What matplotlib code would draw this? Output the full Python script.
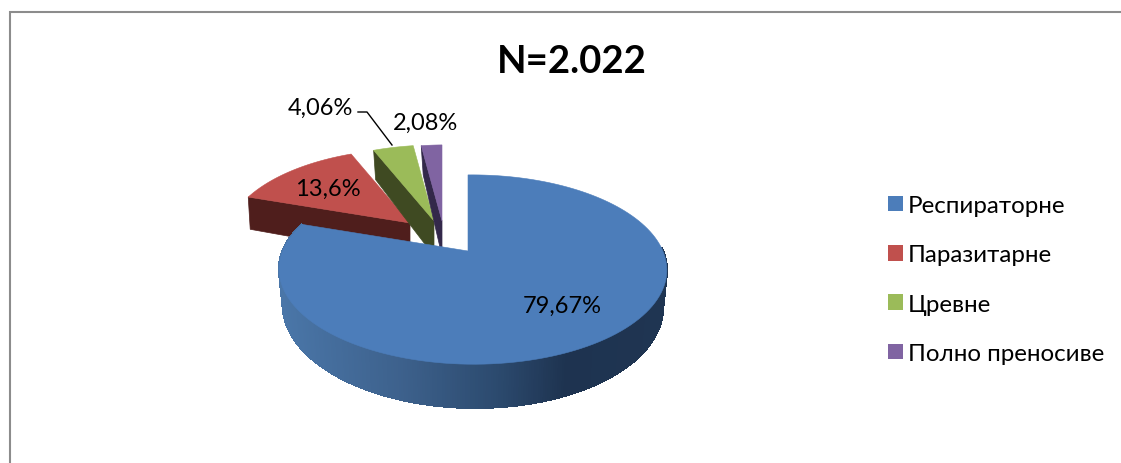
import numpy as np
import matplotlib
matplotlib.use("Agg")
import matplotlib.pyplot as plt
from matplotlib.patches import Patch, Polygon
from matplotlib.colors import to_rgb

title = "N=2.022"
categories = ["Респираторне", "Паразитарне", "Цревне", "Полно преносиве"]
values = [79.67, 13.6, 4.06, 2.08]
value_labels = ["79,67%", "13,6%", "4,06%", "2,08%"]

colors = ["#4c7dba", "#c0504d", "#9bbb59", "#8064a2"]
dark = ["#1f3350", "#4f1e1c", "#3f4a22", "#33284a"]

plt.rcParams["font.family"] = ["Lato", "Noto Sans", "DejaVu Sans"]
fig = plt.figure(figsize=(11.21, 4.64), dpi=100)
ax = fig.add_axes([0, 0, 1, 1])
ax.set_xlim(0, 1121)
ax.set_ylim(464, 0)
ax.axis("off")

# perspective of the pie disc
A, B, K, M = 190.0, 91.0, 0.196, -0.025
DEPTH = 35.0
XSHRINK = 0.98


def project(theta, apex, r=1.0):
    u, v = np.sin(theta), np.cos(theta)
    s = 1 / (1 + K * v + M * u)
    return apex[0] + r * A * u * s, apex[1] - r * B * v * s, s


apexes = [(468, 252), (410, 224), (434, 222), (442, 222)]
radii = [1.0, 0.975, 1.0, 1.0]

frac = np.array(values) / np.sum(values)
edges = np.concatenate([[0], np.cumsum(frac)]) * 2 * np.pi


def draw_wedge(i, z):
    ap = apexes[i]
    th = np.linspace(edges[i], edges[i + 1], 150)
    x, y, s = project(th, ap, radii[i])
    if i > 0:
        # cut face on the leading edge
        x0, y0, s0 = x[0], y[0], s[0]
        face = [(x0, y0), ap, (ap[0], ap[1] + DEPTH), (x0 + 2, y0 + DEPTH * s0)]
        ax.add_patch(Polygon(face, closed=True, fc=dark[i], ec=dark[i], lw=0.5, zorder=z))
    else:
        # rim with horizontal shading
        th2 = np.linspace(np.radians(88), edges[1], 320)
        xs, ys, ss = project(th2, ap)
        xb = ap[0] + (xs - ap[0]) * XSHRINK
        yb = ys + DEPTH * ss
        stops_x = [280, 400, 500, 565, 670]
        stops_c = np.array([to_rgb(c) for c in ["#4a76a8", "#3d618c", "#2b496d", "#1e3350", "#1f3552"]])
        for j in range(len(th2) - 1):
            xm = (xs[j] + xs[j + 1]) / 2
            c = [np.interp(xm, stops_x, stops_c[:, k]) for k in range(3)]
            q = [(xs[j], ys[j]), (xs[j + 1], ys[j + 1]), (xb[j + 1], yb[j + 1]), (xb[j], yb[j])]
            ax.add_patch(Polygon(q, closed=True, fc=c, ec=c, lw=1.0, antialiased=False, zorder=z))
        ax.plot([ap[0], ap[0]], [ap[1] - 50, ap[1]], color="#2c4a70", lw=0.7, zorder=z)
    top = np.column_stack([np.r_[ap[0], x], np.r_[ap[1], y]])
    ax.add_patch(Polygon(top, closed=True, fc=colors[i], ec=colors[i], lw=0.4, zorder=z + 0.1))


for order, i in enumerate([1, 2, 3, 0]):
    draw_wedge(i, 2 + order)

# frame
ax.plot([9.5, 9.5, 1121], [464, 12.5, 12.5], color="#8c8c8c", lw=1.5, zorder=1, solid_joinstyle="miter")

# title and labels
ax.text(572, 62, title, fontsize=27.5, fontweight="bold", ha="center", va="center", color="black", zorder=10)
label_pos = [(562, 306), (328, 189), (320, 108), (426, 123)]
for t, (px, py) in zip(value_labels, label_pos):
    ax.text(px, py, t, fontsize=17, ha="center", va="center", color="black", zorder=10)

# leader line
ax.plot([358, 367, 392], [113, 113, 146], color="black", lw=1.0, zorder=10)

handles = [Patch(fc=c, ec="none") for c in colors]
leg = ax.legend(handles, categories, loc="center left", bbox_to_anchor=(888 / 1121, 1 - 280.5 / 464),
                frameon=False, fontsize=17.4, handlelength=0.62, handleheight=0.62,
                handletextpad=0.2, labelspacing=1.17, borderpad=0, borderaxespad=0)

fig.savefig("out.png", dpi=100)
